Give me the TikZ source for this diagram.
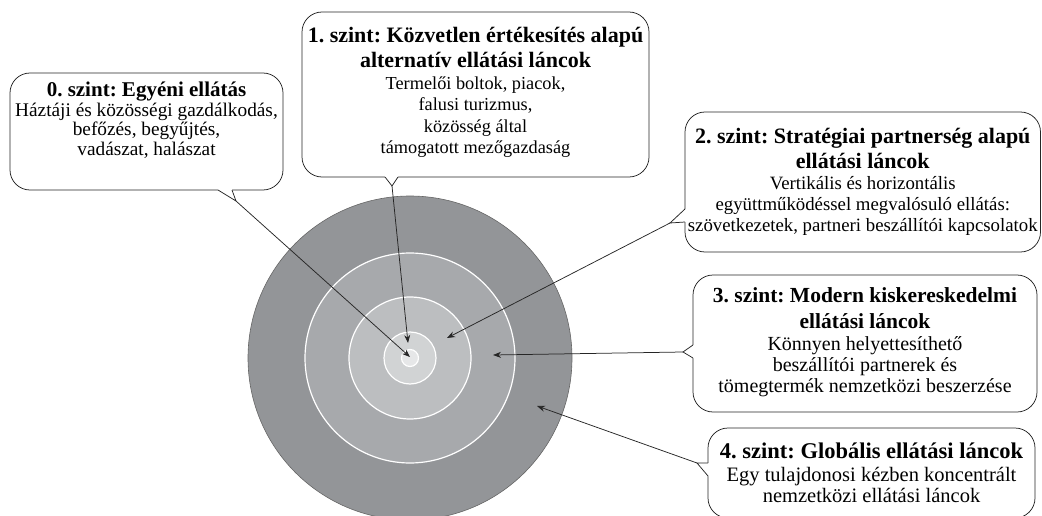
\documentclass[tikz,border=0pt]{standalone}
\usepackage{fontspec}
\setmainfont{Liberation Serif}
\usetikzlibrary{arrows.meta}
\definecolor{ringA}{HTML}{939598}
\definecolor{ringB}{HTML}{A7A9AC}
\definecolor{ringC}{HTML}{BCBEC0}
\definecolor{ringD}{HTML}{D1D3D4}
\definecolor{ringE}{HTML}{E6E7E8}
\newcommand{\ttl}[2]{{\fontsize{#1}{#1}\selectfont\bfseries #2}}
\frenchspacing
\begin{document}
\begin{tikzpicture}[x=1pt,y=-1pt,
  bubble/.style={draw=black!85, fill=white, line width=0.75pt, rectangle, rounded corners=20pt, inner sep=0pt},
  txt/.style={align=center, inner sep=0pt},
  tailline/.style={draw=black!85, line width=0.75pt, line join=miter},
  arr/.style={draw=black!85, line width=0.75pt, -{Stealth[length=8pt,width=6pt]}},
  ring/.style={circle, draw=white, line width=1.2pt, inner sep=0pt}]
\useasboundingbox (0,0) rectangle (1042,516);
\clip (0,0) rectangle (1042,516);

% concentric circles
\node[circle, inner sep=0pt, fill=ringA, draw=black!60, line width=0.6pt, minimum size=324pt] (r4) at (410,358) {};
\node[ring, fill=ringB, minimum size=210pt] (r3) at (410,358) {};
\node[ring, fill=ringC, minimum size=122pt] (r2) at (410,358) {};
\node[ring, fill=ringD, minimum size=52pt] (r1) at (410,358) {};
\node[ring, fill=ringE, minimum size=17pt] (r0) at (410,358) {};

% bubbles (frames)
\node[bubble, minimum width=273pt, minimum height=117pt] (b0) at (146.5,131.5) {};
\node[bubble, minimum width=347pt, minimum height=165pt] (b1) at (475.5,94.5) {};
\node[bubble, minimum width=355.5pt, minimum height=140pt] (b2) at (862.75,182) {};
\node[bubble, minimum width=344pt, minimum height=137pt] (b3) at (865,343.5) {};
\node[bubble, minimum width=327pt, minimum height=90pt] (b4) at (871.5,473) {};

% texts
\node[txt, font=\fontsize{19.3}{19.5}\selectfont] (t0) at (146.5,120)
  {\ttl{21}{0. szint: Egyéni ellátás}\\[0.5pt] Háztáji és közösségi gazdálkodás,\\ befőzés, begyűjtés,\\ vadászat, halászat};
\node[txt, font=\fontsize{18.3}{21.5}\selectfont] (t1) at (475.5,92.5)
  {\ttl{22}{1. szint: Közvetlen értékesítés alapú}\\[4pt] \ttl{22}{alternatív ellátási láncok}\\ Termelői boltok, piacok,\\ falusi turizmus,\\ közösség által\\ támogatott mezőgazdaság};
\node[txt, font=\fontsize{18.8}{21}\selectfont] (t2) at (862.75,182)
  {\ttl{22}{2. szint: Stratégiai partnerség alapú}\\[4pt] \ttl{22}{ellátási láncok}\\ Vertikális és horizontális\\ együttműködéssel megvalósuló ellátás:\\ szövetkezetek, partneri beszállítói kapcsolatok};
\node[txt, font=\fontsize{20}{21}\selectfont] (t3) at (865,342)
  {\ttl{21.5}{3. szint: Modern kiskereskedelmi}\\[5pt] \ttl{21.5}{ellátási láncok}\\[1pt] Könnyen helyettesíthető\\ beszállítói partnerek és\\ tömegtermék nemzetközi beszerzése};
\node[txt, font=\fontsize{20.5}{21.5}\selectfont] (t4) at (871.5,473)
  {\ttl{22.5}{4. szint: Globális ellátási láncok}\\[1pt] Egy tulajdonosi kézben koncentrált\\ nemzetközi ellátási láncok};

% tails
\fill[white] (218,187) -- (218,190) -- (236,201) -- (232,190) -- (232,187) -- cycle;
\draw[tailline] (218,190) -- (236,201) -- (232,190);
\fill[white] (385,174) -- (385,177) -- (392,186) -- (398,177) -- (398,174) -- cycle;
\draw[tailline] (385,177) -- (392,186) -- (398,177);
\fill[white] (688,209) -- (685,209) -- (670,223) -- (685,222) -- (688,222) -- cycle;
\draw[tailline] (685,209) -- (670,223) -- (685,222);
\fill[white] (696,345) -- (693,345) -- (683,352) -- (693,358) -- (696,358) -- cycle;
\draw[tailline] (693,345) -- (683,352) -- (693,358);
\fill[white] (711,463) -- (708,463) -- (697,463) -- (708,476) -- (711,476) -- cycle;
\draw[tailline] (708,463) -- (697,463) -- (708,476);

% tail tips and targets
\coordinate (p0) at (236,201);
\coordinate (p1) at (392,186);
\coordinate (p2) at (670,223);
\coordinate (p3) at (683,352);
\coordinate (p4) at (697,463);
\coordinate (c0) at (410,357);
\coordinate (c1) at (408,343);
\coordinate (c2) at (447,338);
\coordinate (c3) at (493,355);
\coordinate (c4) at (537,406);

\draw[arr] (p0) -- (c0);
\draw[arr] (p1) -- (c1);
\draw[arr] (p2) -- (c2);
\draw[arr] (p3) -- (c3);
\draw[arr] (p4) -- (c4);
\end{tikzpicture}
\end{document}
